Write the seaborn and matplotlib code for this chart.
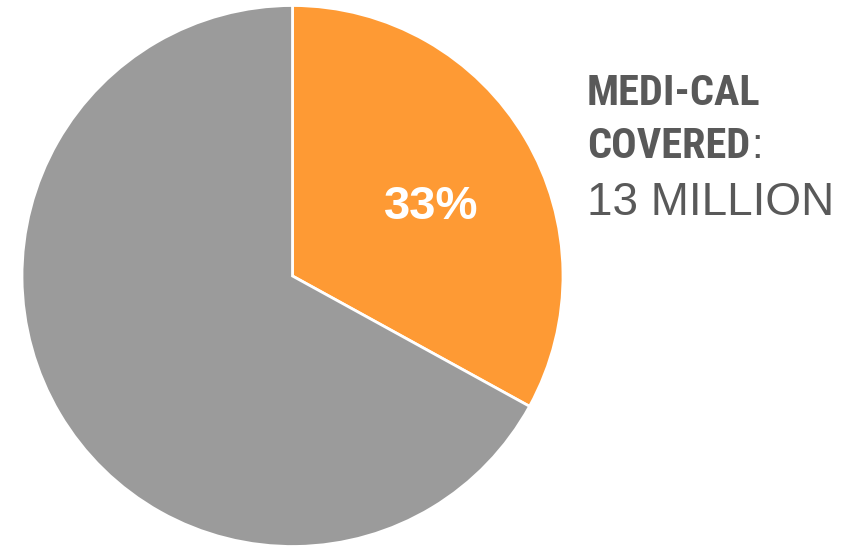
import matplotlib
matplotlib.use("Agg")
import matplotlib.pyplot as plt
import seaborn as sns

categories = ["Medi-Cal covered", "Other"]
shares = [33, 67]
colors = ["#FE9A34", "#9B9B9B"]
pct_label = "33%"
title_lines = ["MEDI-CAL", "COVERED"]
value_text = "13 MILLION"

sns.set_theme(style="white")
plt.rcParams['font.family'] = ['Liberation Sans', 'DejaVu Sans']

W, H = 844, 546
fig = plt.figure(figsize=(W / 100, H / 100), dpi=100)
fig.patch.set_facecolor("white")
ax = fig.add_axes([0, 0, 1, 1])
ax.set_xlim(0, W)
ax.set_ylim(0, H)
ax.set_aspect("equal")
ax.axis("off")

ax.pie(shares, colors=colors, startangle=90, counterclock=False,
       center=(292.5, H - 276), radius=270.5,
       wedgeprops=dict(edgecolor="white", linewidth=2))
ax.set_xlim(0, W)
ax.set_ylim(0, H)

ax.text(431.5, H - 207, pct_label, color="white", fontsize=34, fontweight="bold",
        ha="center", va="center", family=["Liberation Sans", "DejaVu Sans"])

tcol = "#595959"
cond = ["Roboto Condensed", "DejaVu Sans"]
ax.text(587, H - 105, title_lines[0], color=tcol, fontsize=30.5, fontweight="bold",
        ha="left", va="baseline", family=cond)
t2 = ax.text(587, H - 158, title_lines[1], color=tcol, fontsize=30.5, fontweight="bold",
             ha="left", va="baseline", family=cond)
fig.canvas.draw()
bb = t2.get_window_extent()
ax.text(bb.x1 + 1, H - 158, ":", color=tcol, fontsize=30,
        ha="left", va="baseline", family=["Liberation Sans", "DejaVu Sans"])
ax.text(587, H - 215, value_text, color=tcol, fontsize=33,
        ha="left", va="baseline", family=["Liberation Sans", "DejaVu Sans"])

fig.savefig("out.png", dpi=100, facecolor="white")
